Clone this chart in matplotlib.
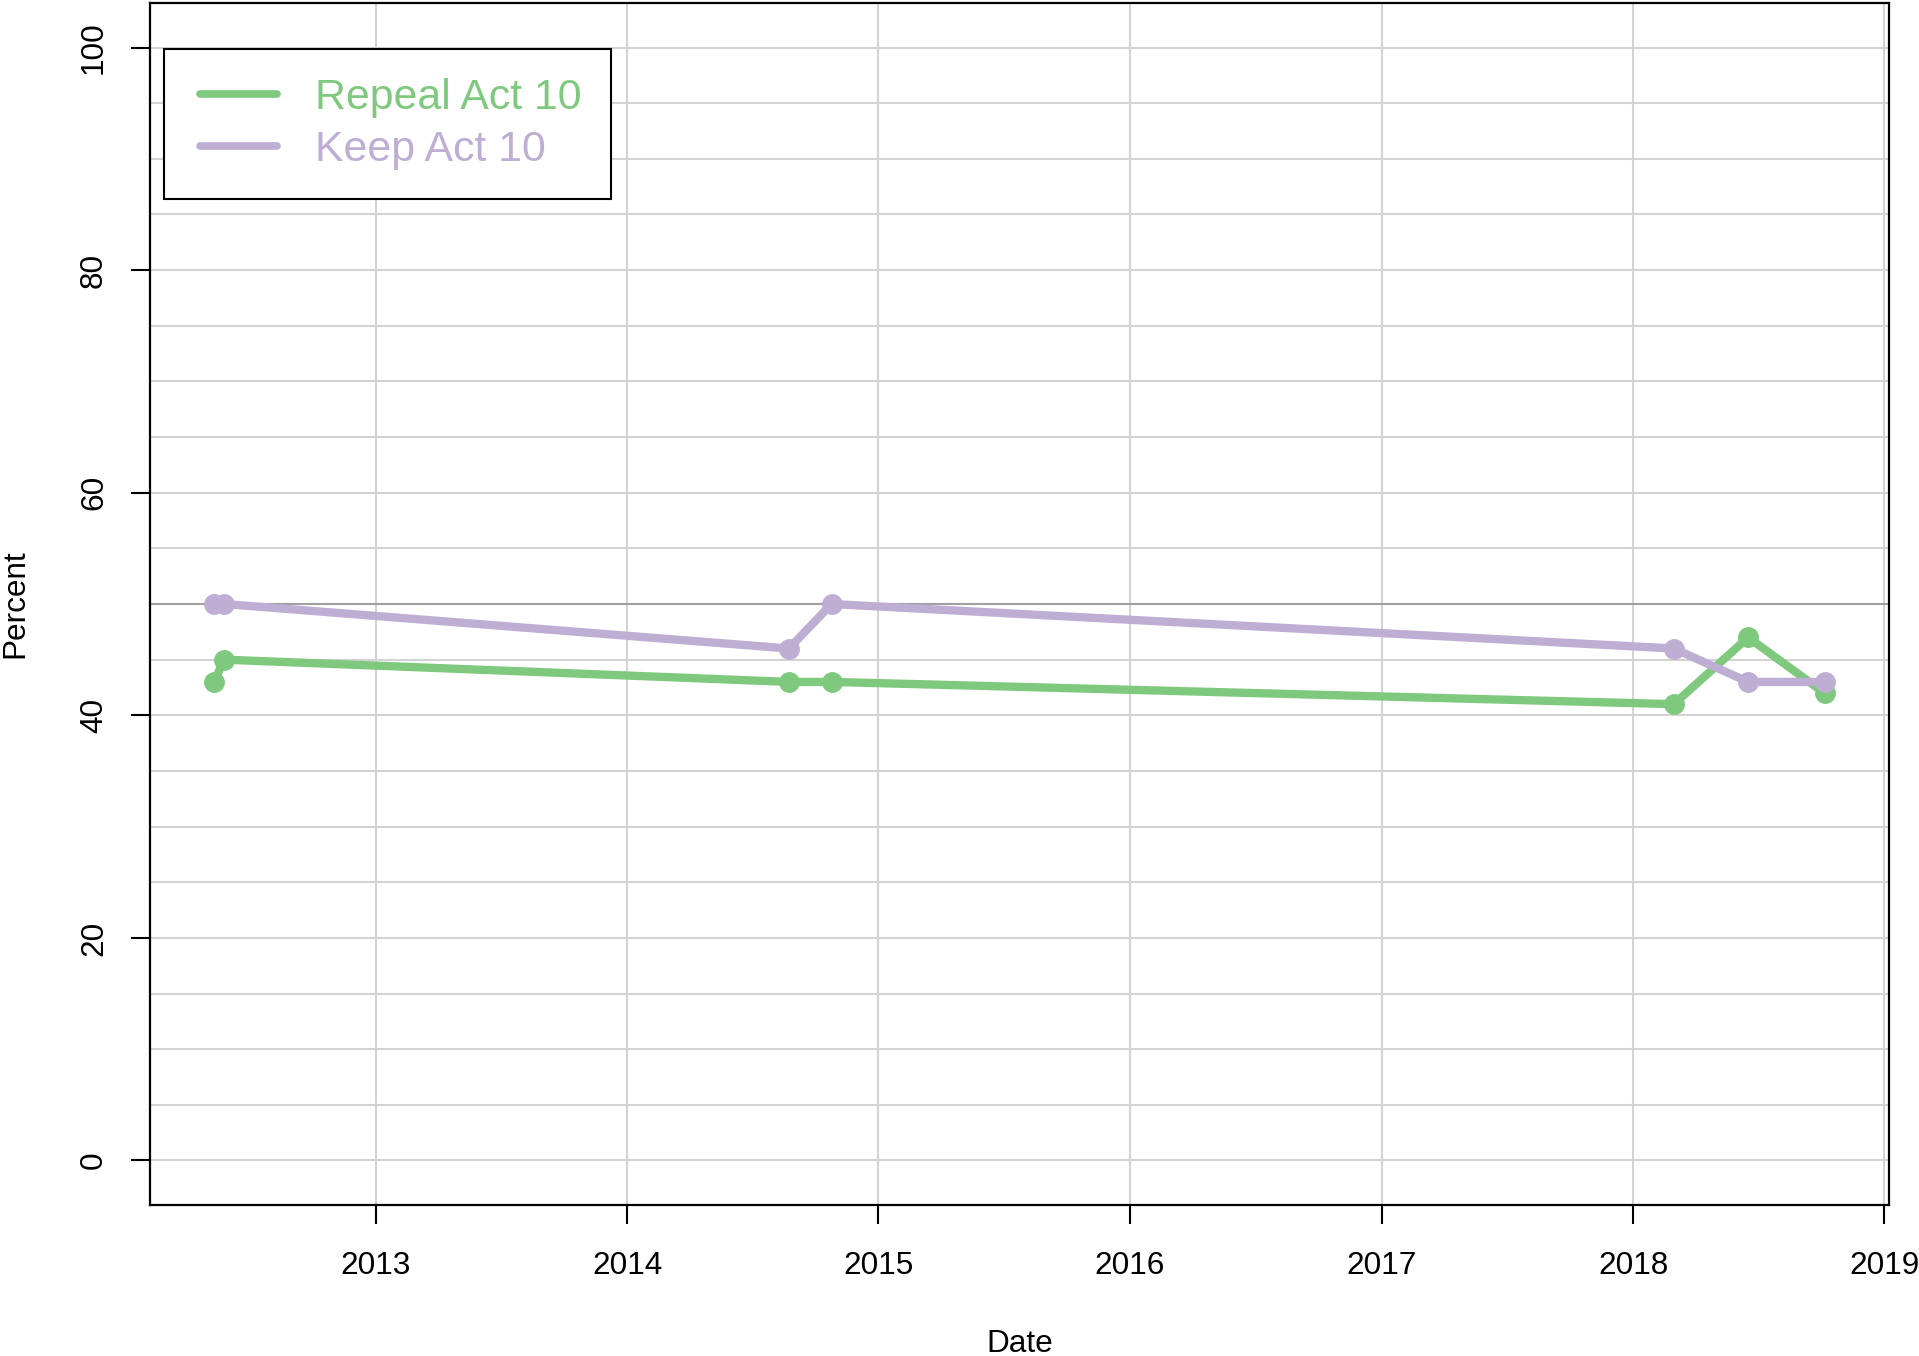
import matplotlib
matplotlib.use("Agg")
import matplotlib.pyplot as plt
import matplotlib.dates as mdates
from matplotlib.lines import Line2D
from matplotlib.legend_handler import HandlerLine2D
import pandas as pd

plt.rcParams["font.family"] = ["Liberation Sans", "DejaVu Sans"]

# Poll data
poll_dates = ["2012-05-11", "2012-05-26", "2014-08-24", "2014-10-25",
              "2018-03-01", "2018-06-17", "2018-10-06"]
repeal = [43, 45, 43, 43, 41, 47, 42]
keep = [50, 50, 46, 50, 46, 43, 43]
series_labels = ["Repeal Act 10", "Keep Act 10"]
series_colors = ["#7FC97F", "#BEAED4"]
year_ticks = [2013, 2014, 2015, 2016, 2017, 2018, 2019]
y_ticks = [0, 20, 40, 60, 80, 100]

dates = mdates.date2num(pd.to_datetime(poll_dates).to_pydatetime())


class TrimmedLineHandler(HandlerLine2D):
    """Legend line handle with its left end pulled in a little."""

    def __init__(self, trim, **kw):
        super().__init__(**kw)
        self.trim = trim

    def create_artists(self, legend, orig_handle, xdescent, ydescent,
                       width, height, fontsize, trans):
        artists = super().create_artists(legend, orig_handle, xdescent, ydescent,
                                         width, height, fontsize, trans)
        for a in artists:
            xd = list(a.get_xdata())
            if len(xd) >= 2:
                xd[0] = xd[0] + self.trim * fontsize
                a.set_xdata(xd)
        return artists


fig = plt.figure(figsize=(19.19, 13.56), dpi=100)
ax = fig.add_axes([149.5 / 1919, 1 - 1205 / 1356,
                   (1889 - 149.5) / 1919, (1205 - 3) / 1356])

# Axis ranges with 4% padding on each side
xmin, xmax = dates.min(), dates.max()
pad = 0.04 * (xmax - xmin)
ax.set_xlim(xmin - pad, xmax + pad)
ax.set_ylim(-4, 104)

# Grid
year_pos = [mdates.date2num(pd.Timestamp(f"{y}-01-01").to_pydatetime()) for y in year_ticks]
for xp in year_pos:
    ax.axvline(xp, color="#D3D3D3", lw=1.5, zorder=0)
for yv in range(0, 101, 5):
    if yv == 50:
        continue
    ax.axhline(yv, color="#D3D3D3", lw=1.5, zorder=0)
ax.axhline(50, color="#A0A0A0", lw=1.5, zorder=0.5)

# Series
for vals, col in zip([repeal, keep], series_colors):
    ax.plot(dates, vals, color=col, lw=6, marker="o", markersize=14,
            solid_joinstyle="round", solid_capstyle="round", zorder=3)

# Axes styling
for sp in ax.spines.values():
    sp.set_linewidth(1.6)
    sp.set_color("black")

ax.set_xticks(year_pos)
ax.set_xticklabels([str(y) for y in year_ticks])
ax.set_yticks(y_ticks)
ax.set_yticklabels([str(v) for v in y_ticks], rotation=90, va="center")
ax.tick_params(axis="both", length=13.7, width=1.5, labelsize=22.7, direction="out")
ax.tick_params(axis="x", pad=19.5)
ax.tick_params(axis="y", pad=15.5)

ax.set_xlabel("Date", fontsize=22.7)
ax.set_ylabel("Percent", fontsize=22.7)
ax.xaxis.set_label_coords(0.5, (1205 - 1344) / 1202)
ax.yaxis.set_label_coords((15 - 149.5) / 1739.5, 0.5)
ax.xaxis.label.set_va("center")
ax.yaxis.label.set_va("center")

# Legend
handles = [Line2D([], [], color=c, lw=5.5, solid_capstyle="round") for c in series_colors]
leg = ax.legend(handles, series_labels, loc="upper left",
                bbox_to_anchor=((164 - 149.5) / 1739.5, (1205 - 49) / 1202),
                borderaxespad=0, fontsize=30.8, frameon=True, fancybox=False,
                edgecolor="black", framealpha=1, handlelength=1.95,
                handletextpad=0.9, borderpad=0.68, labelspacing=0.27,
                labelcolor="linecolor",
                handler_map={Line2D: TrimmedLineHandler(0.17)})
leg.get_frame().set_linewidth(1.5)

fig.savefig("out.png", dpi=100)
